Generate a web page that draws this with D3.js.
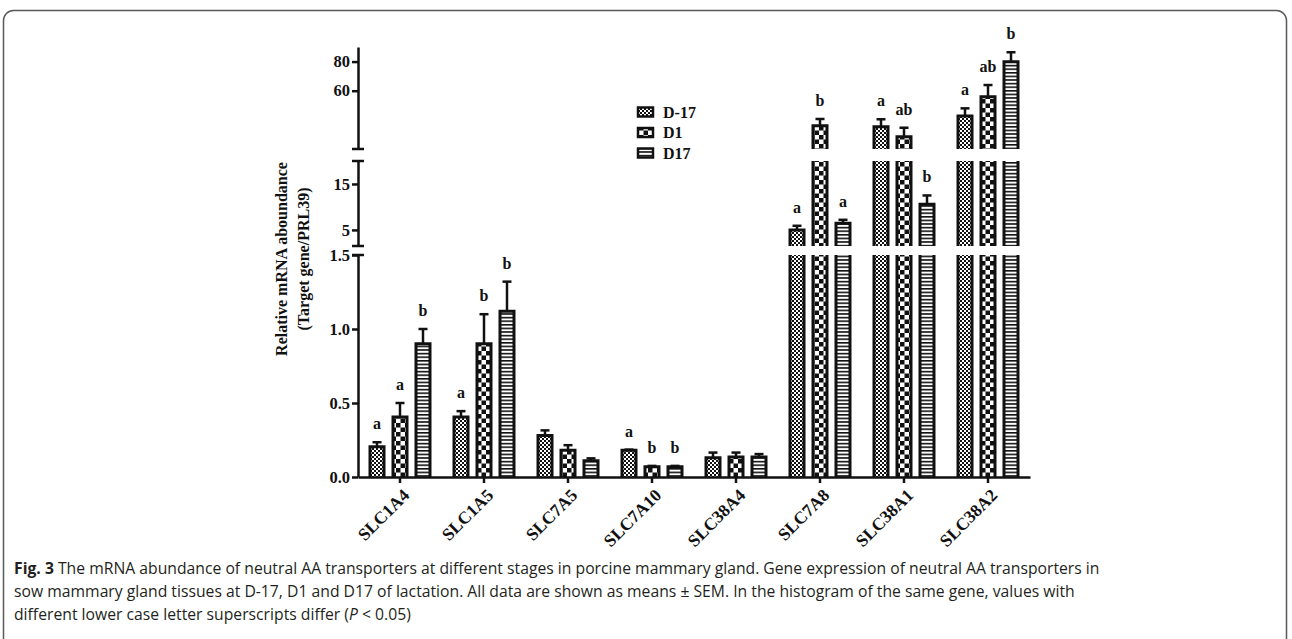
<!DOCTYPE html>
<html>
<head>
<meta charset="utf-8">
<script src="https://cdn.jsdelivr.net/npm/d3@7/dist/d3.min.js"></script>
<style>
  html, body { margin: 0; padding: 0; background: #fff; }
  svg { display: block; }
</style>
</head>
<body>
<svg id="chart" width="1292" height="639"></svg>
<script>
// ---------------- DATA ----------------
const genes = ["SLC1A4", "SLC1A5", "SLC7A5", "SLC7A10", "SLC38A4", "SLC7A8", "SLC38A1", "SLC38A2"];
const seriesNames = ["D-17", "D1", "D17"];
const valuesD_17 = [0.205, 0.405, 0.28, 0.18, 0.13, 5.0, 35.3, 42.6];
const semD_17    = [0.03, 0.04, 0.035, 0.005, 0.035, 0.9, 5.1, 5.3];
const valuesD1   = [0.405, 0.90, 0.18, 0.07, 0.135, 36.0, 28.4, 55.9];
const semD1      = [0.095, 0.20, 0.035, 0.005, 0.03, 4.6, 6.2, 8.0];
const valuesD17  = [0.90, 1.12, 0.11, 0.07, 0.135, 6.45, 10.6, 79.9];
const semD17     = [0.10, 0.20, 0.016, 0.005, 0.02, 0.75, 1.9, 6.5];
const lettersD_17 = ["a", "a", "", "a", "", "a", "a", "a"];
const lettersD1   = ["a", "b", "", "b", "", "b", "ab", "ab"];
const lettersD17  = ["b", "b", "", "b", "", "a", "b", "b"];
const ticksTop = [60, 80];
const ticksMid = [5, 15];
const ticksBot = [0, 0.5, 1.0, 1.5];
const segTopDomain = [20, 90];
const segMidDomain = [1.5, 20];
const segBotDomain = [0, 1.5];
const yTitleLines = ["Relative mRNA aboundance", "(Target gene/PRL39)"];
const captionLines = [
  [{t: "Fig. 3", b: true}, {t: " The mRNA abundance of neutral AA transporters at different stages in porcine mammary gland. Gene expression of neutral AA transporters in"}],
  [{t: "sow mammary gland tissues at D-17, D1 and D17 of lactation. All data are shown as means \u00b1 SEM. In the histogram of the same gene, values with"}],
  [{t: "different lower case letter superscripts differ ("}, {t: "P", i: true}, {t: " < 0.05)"}]
];

// ---------------- LAYOUT ----------------
const svg = d3.select("#chart");
const serif = "'Liberation Serif', 'Times New Roman', serif";
const axisX = 358, axisRight = 1030, baseY = 477;

// figure frame
svg.append("rect").attr("x", 3.5).attr("y", 10.5).attr("width", 1283).attr("height", 720)
  .attr("rx", 10).attr("fill", "none").attr("stroke", "#58595b").attr("stroke-width", 1.5);

// patterns
const defs = svg.append("defs");
const p0 = defs.append("pattern").attr("id", "pat0").attr("patternUnits", "userSpaceOnUse").attr("width", 4).attr("height", 4);
p0.append("rect").attr("width", 4).attr("height", 4).attr("fill", "#fff");
p0.append("rect").attr("width", 2).attr("height", 2).attr("fill", "#111");
p0.append("rect").attr("x", 2).attr("y", 2).attr("width", 2).attr("height", 2).attr("fill", "#111");
const p1 = defs.append("pattern").attr("id", "pat1").attr("patternUnits", "userSpaceOnUse").attr("width", 9).attr("height", 9);
p1.append("rect").attr("width", 9).attr("height", 9).attr("fill", "#fff");
p1.append("rect").attr("width", 4.5).attr("height", 4.5).attr("fill", "#111");
p1.append("rect").attr("x", 4.5).attr("y", 4.5).attr("width", 4.5).attr("height", 4.5).attr("fill", "#111");
const p2 = defs.append("pattern").attr("id", "pat2").attr("patternUnits", "userSpaceOnUse").attr("width", 4).attr("height", 3.6);
p2.append("rect").attr("width", 4).attr("height", 3.6).attr("fill", "#fff");
p2.append("rect").attr("width", 4).attr("height", 1.6).attr("fill", "#111");
const patIds = ["pat0", "pat1", "pat2"];

// scales
const segments = [
  {y: d3.scaleLinear().domain(segTopDomain).range([149, 47]), ticks: ticksTop, fmt: d3.format("d")},
  {y: d3.scaleLinear().domain(segMidDomain).range([246, 161]), ticks: ticksMid, fmt: d3.format("d")},
  {y: d3.scaleLinear().domain(segBotDomain).range([baseY, 255]), ticks: ticksBot, fmt: d3.format(".1f")}
];
function yAny(v) {
  for (let i = segments.length - 1; i >= 0; i--) {
    const d = segments[i].y.domain();
    if (v <= d[1] || i === 0) return segments[i].y(v);
  }
}
const x = d3.scaleBand().domain(genes).range([axisX, axisRight]).padding(0);
const xs = d3.scalePoint().domain(seriesNames).range([-34.5, 34.5]).padding(0.5);
const barHalf = 7;

const series = [
  {name: seriesNames[0], vals: valuesD_17, sem: semD_17, letters: lettersD_17},
  {name: seriesNames[1], vals: valuesD1, sem: semD1, letters: lettersD1},
  {name: seriesNames[2], vals: valuesD17, sem: semD17, letters: lettersD17}
];

// bars
const gBars = svg.append("g");
series.forEach((s, si) => {
  genes.forEach((g, gi) => {
    const v = s.vals[gi];
    const cx = x(g) + x.bandwidth() / 2 + xs(s.name);
    const x0 = cx - barHalf, x1 = cx + barHalf;
    segments.forEach(seg => {
      const [lo, hi] = seg.y.domain();
      if (v <= lo && lo > 0) return;
      const top = Math.min(v, hi);
      const yT = seg.y(top), yB = seg.y(lo);
      gBars.append("rect").attr("x", x0).attr("y", yT).attr("width", x1 - x0).attr("height", yB - yT)
        .attr("fill", `url(#${patIds[si]})`);
      const p = v <= hi
        ? `M${x0},${yB}V${yT}H${x1}V${yB}`
        : `M${x0},${yB}V${yT}M${x1},${yT}V${yB}`;
      gBars.append("path").attr("d", p).attr("fill", "none").attr("stroke", "#111").attr("stroke-width", 3);
    });
    // error bar (upper only)
    const yv = yAny(v), ye = yAny(v + s.sem[gi]);
    gBars.append("line").attr("x1", cx).attr("x2", cx).attr("y1", yv).attr("y2", ye)
      .attr("stroke", "#111").attr("stroke-width", 2.5);
    gBars.append("line").attr("x1", cx - 4.5).attr("x2", cx + 4.5).attr("y1", ye).attr("y2", ye)
      .attr("stroke", "#111").attr("stroke-width", 2.5);
    if (s.letters[gi]) {
      gBars.append("text").attr("x", cx).attr("y", ye - 13).attr("text-anchor", "middle")
        .attr("font-family", serif).attr("font-weight", "bold").attr("font-size", 16).attr("fill", "#111")
        .text(s.letters[gi]);
    }
  });
});

// y axis segments
segments.forEach(seg => {
  const ax = svg.append("g").attr("transform", `translate(${axisX},0)`)
    .call(d3.axisLeft(seg.y).tickValues(seg.ticks).tickFormat(seg.fmt).tickSize(6).tickSizeOuter(0).tickPadding(2));
  ax.select(".domain").attr("stroke", "#111").attr("stroke-width", 2.5);
  ax.selectAll(".tick line").attr("stroke", "#111").attr("stroke-width", 2.5);
  ax.selectAll(".tick text").attr("font-family", serif).attr("font-weight", "bold").attr("font-size", 16.5).attr("fill", "#111");
});
// break caps
const capYs = [segments[0].y.range()[0], segments[1].y.range()[1], segments[1].y.range()[0], segments[2].y.range()[1]];
capYs.forEach(cy => {
  svg.append("line").attr("x1", axisX - 6).attr("x2", axisX + 6).attr("y1", cy).attr("y2", cy)
    .attr("stroke", "#111").attr("stroke-width", 2.5);
});

// x axis
const xa = svg.append("g").attr("transform", `translate(0,${baseY})`)
  .call(d3.axisBottom(x).tickSize(6).tickSizeOuter(0));
xa.select(".domain").attr("stroke", "#111").attr("stroke-width", 2.5);
xa.selectAll(".tick line").attr("stroke", "#111").attr("stroke-width", 2.5);
xa.selectAll(".tick text")
  .attr("font-family", serif).attr("font-weight", "bold").attr("font-size", 17.5).attr("fill", "#111")
  .attr("text-anchor", "end").attr("x", 0).attr("y", 0).attr("dy", "0.35em")
  .attr("transform", "translate(6,15) rotate(-45)");

// y title
const yt = svg.append("text").attr("transform", "translate(287,259) rotate(-90)")
  .attr("text-anchor", "middle").attr("font-family", serif).attr("font-weight", "bold")
  .attr("font-size", 16).attr("fill", "#111");
yTitleLines.forEach((l, i) => {
  yt.append("tspan").attr("x", 0).attr("y", i * 22).text(l);
});

// legend
const lg = svg.append("g");
series.forEach((s, i) => {
  const cy = 112 + 20.5 * i;
  lg.append("rect").attr("x", 638).attr("y", cy - 4.5).attr("width", 15).attr("height", 9)
    .attr("fill", `url(#${patIds[i]})`).attr("stroke", "#111").attr("stroke-width", 2.5);
  lg.append("text").attr("x", 663).attr("y", cy).attr("dy", "0.35em")
    .attr("font-family", serif).attr("font-weight", "bold").attr("font-size", 16).attr("fill", "#111")
    .text(s.name);
});

// caption (single horizontal scale fitted from first line)
const capBase = [574, 597, 620];
let capScale = null;
captionLines.forEach((parts, li) => {
  const g = svg.append("g");
  const t = g.append("text").attr("x", 0).attr("y", 0)
    .attr("font-family", "'Open Sans', 'Noto Sans', sans-serif").attr("font-size", 16).attr("fill", "#231f20");
  parts.forEach(p => {
    const ts = t.append("tspan").text(p.t);
    if (p.b) ts.attr("font-weight", "bold");
    if (p.i) ts.attr("font-style", "italic");
  });
  if (capScale === null) capScale = 1086 / t.node().getComputedTextLength();
  g.attr("transform", `translate(14,${capBase[li]}) scale(${capScale},1)`);
});
</script>
</body>
</html>
